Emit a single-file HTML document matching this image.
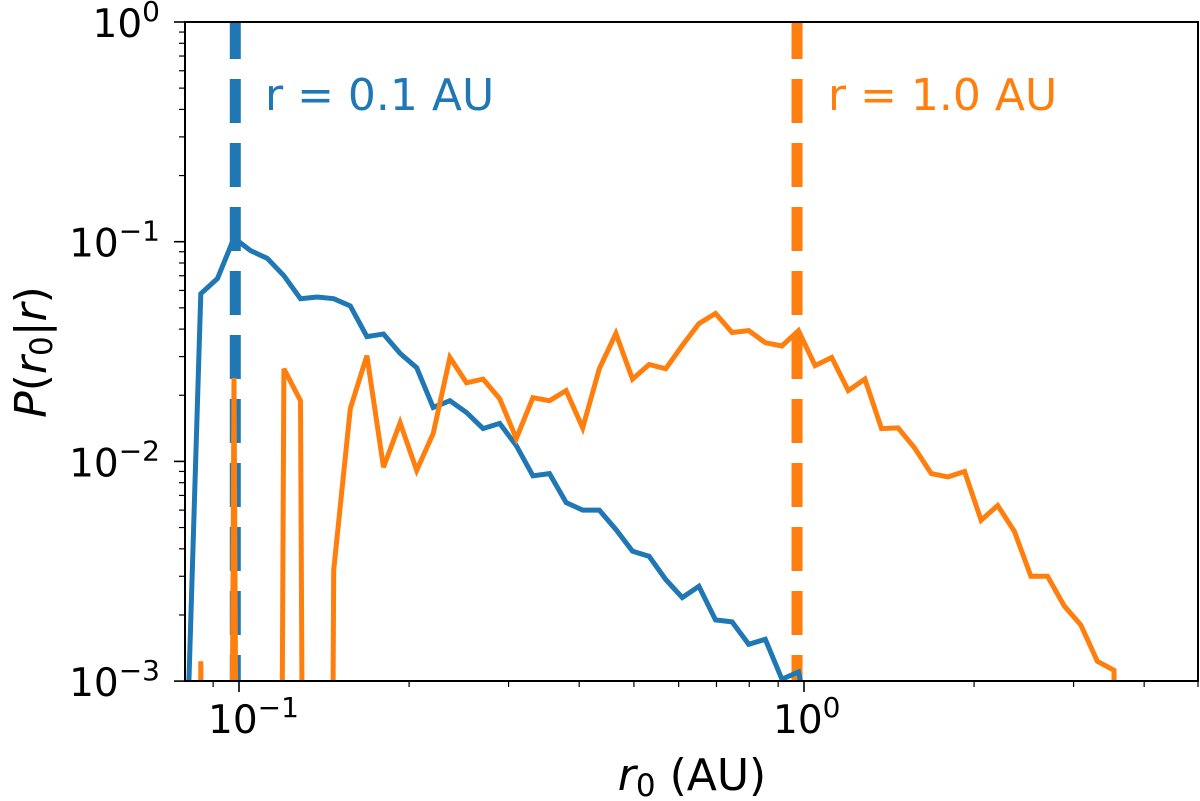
<!DOCTYPE html>
<html><head><meta charset="utf-8"><style>
html,body{margin:0;padding:0;background:#fff;overflow:hidden;}
svg{display:block;font-family:"DejaVu Sans","Liberation Sans",sans-serif;}
</style></head><body>
<svg id="chart" width="1200" height="801" viewBox="0 0 1200 801" xmlns="http://www.w3.org/2000/svg">
<defs><clipPath id="plotclip"><rect x="185" y="22" width="1013" height="659"/></clipPath></defs>
<g id="plot" clip-path="url(#plotclip)"></g>
<g id="axes"></g>
</svg>
<script>
const r0 = [0.0800,0.0856,0.0916,0.0980,0.1049,0.1122,0.1201,0.1285,0.1375,0.1471,0.1574,0.1684,0.1802,0.1928,0.2063,0.2207,0.2362,0.2527,0.2704,0.2893,0.3096,0.3312,0.3544,0.3793,0.4058,0.4342,0.4646,0.4971,0.5319,0.5692,0.6090,0.6516,0.6972,0.7460,0.7983,0.8542,0.9140,0.9779,1.0464,1.1196,1.1980,1.2819,1.3716,1.4676,1.5704,1.6803,1.7979,1.9238,2.0584,2.2025,2.3567,2.5216,2.6981,2.8870,3.0891,3.3053,3.5367,3.7842];
const blueVals = [0.0002,0.058,0.068,0.104,0.091,0.084,0.070,0.055,0.056,0.055,0.051,0.037,0.038,0.031,0.0267,0.0176,0.0189,0.0167,0.0141,0.0149,0.0118,0.0086,0.0088,0.0065,0.0060,0.0060,0.0049,0.0039,0.0037,0.0029,0.0024,0.0027,0.0019,0.00186,0.00147,0.00155,0.00102,0.00110,0.0005];
const orangeVals = [0,0.00123,0,0.024,0,0,0.0264,0.0189,0,0.0032,0.0174,0.0303,0.0094,0.015,0.0091,0.0134,0.0297,0.0228,0.0237,0.0193,0.0127,0.0195,0.0189,0.021,0.0142,0.0264,0.0382,0.0237,0.0276,0.0264,0.0337,0.0424,0.0471,0.0386,0.0394,0.0347,0.0335,0.0394,0.0273,0.0297,0.021,0.0237,0.0141,0.0142,0.0115,0.0088,0.0085,0.0090,0.0054,0.0063,0.0048,0.0030,0.0030,0.0022,0.0018,0.00123,0.00112,0];
const refLines = [0.0985, 0.972];
const refLabels = ["r = 0.1 AU", "r = 1.0 AU"];
const yTickExp = [0,-1,-2,-3];
const xTickExp = [-1,0];

const NS="http://www.w3.org/2000/svg";
const L=185,R=1198,T=22,B=681;
const xPerDec=565, x1=804;
function X(v){return x1+Math.log10(v)*xPerDec;}
function Y(v){ if(v<=0) return B+3000; return T+(-Math.log10(v))*219.7;}
function mk(tag,attrs,parent){const e=document.createElementNS(NS,tag);for(const k in attrs)e.setAttribute(k,attrs[k]);parent.appendChild(e);return e;}
const plot=document.getElementById('plot'), axes=document.getElementById('axes');
const blue="#1f77b4", orange="#ff7f0e";

refLines.forEach((rv,i)=>{
  const ln=mk('line',{x1:X(rv),x2:X(rv),y1:15,y2:B+20,stroke:i?orange:blue,'stroke-width':11,'stroke-dasharray':'44 20'},plot);
  
  
});
function series(vals,color,name){
  const pts=vals.map((v,i)=>X(r0[i]).toFixed(1)+','+Y(v).toFixed(1)).join(' ');
  const p=mk('polyline',{points:pts,fill:'none',stroke:color,'stroke-width':5,'stroke-linejoin':'miter','stroke-miterlimit':4},plot);
  
  
}
series(blueVals,blue,'series-r-0p1au');
series(orangeVals,orange,'series-r-1au');

[[265,110],[828,110]].forEach((pos,i)=>{
  const t=mk('text',{x:pos[0],y:pos[1],fill:i?orange:blue,'font-size':44},axes);
  t.textContent=refLabels[i];
  
  
});

const fr=mk('rect',{x:L,y:T,width:R-L,height:B-T,fill:'none',stroke:'#000','stroke-width':2},axes);



for(let d=0;d>=-3;d--){
  const y=Y(Math.pow(10,d));
  mk('line',{x1:L-11,x2:L,y1:y,y2:y,stroke:'#000','stroke-width':1.6},axes);
  if(d>-3) for(let m=2;m<=9;m++){const ym=Y(m*Math.pow(10,d-1)); mk('line',{x1:L-6,x2:L,y1:ym,y2:ym,stroke:'#000','stroke-width':1.2},axes);}
}
yTickExp.forEach(e=>{
  const t=mk('text',{x:160,y:Y(Math.pow(10,e))+15,'text-anchor':'end','font-size':39},axes);
  t.innerHTML='10<tspan dy="-16" font-size="28">'+(e<0?'−'+(-e):e)+'</tspan>';
  
  
});
xTickExp.forEach(e=>{
  const x=X(Math.pow(10,e));
  mk('line',{x1:x,x2:x,y1:B,y2:B+11,stroke:'#000','stroke-width':1.6},axes);
  const t=mk('text',{x:x-31,y:733,'font-size':39},axes);
  t.innerHTML='10<tspan dy="-16" font-size="28">'+(e<0?'−'+(-e):e)+'</tspan>';
  
  
});
[0.09,0.2,0.3,0.4,0.5,0.6,0.7,0.8,0.9,2,3,4,5].forEach(v=>{
  const x=Math.min(X(v),R);
  mk('line',{x1:x,x2:x,y1:B,y2:B+6,stroke:'#000','stroke-width':1.2},axes);
});
const xt=mk('text',{x:692,y:790,'text-anchor':'middle','font-size':44},axes);
xt.innerHTML='<tspan font-style="italic">r</tspan><tspan font-size="31" dy="6">0</tspan><tspan dy="-6"> (AU)</tspan>';


const yt=mk('text',{x:0,y:0,'text-anchor':'middle','font-size':44,transform:'translate(46,352) rotate(-90)'},axes);
yt.innerHTML='<tspan font-style="italic">P</tspan>(<tspan font-style="italic">r</tspan><tspan font-size="31" dy="6">0</tspan><tspan dy="-6">|</tspan><tspan font-style="italic">r</tspan>)';


</script>
</body></html>
